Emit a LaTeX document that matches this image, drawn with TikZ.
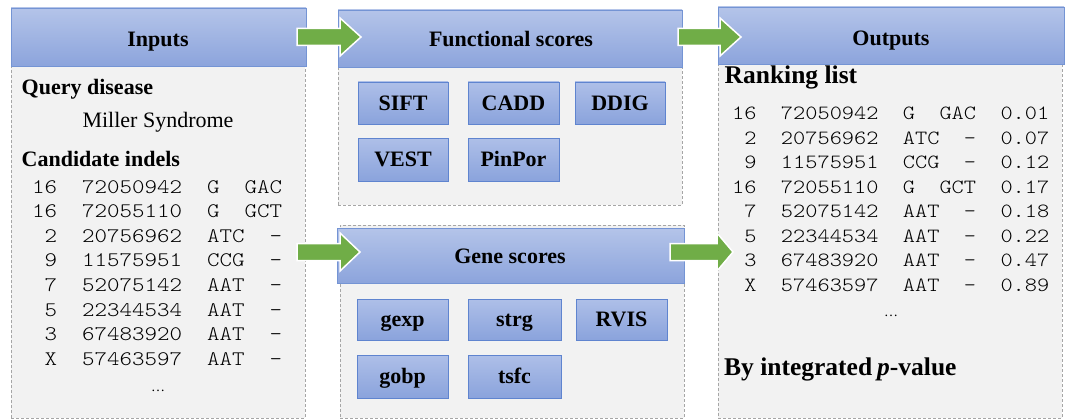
\documentclass[tikz,border=0pt]{standalone}
\usepackage{fontspec}
\setmainfont{Liberation Serif}
\newfontfamily\courierlike{lmmonolt10-regular.otf}[FakeStretch=1.15]
\definecolor{hdtop}{HTML}{B4C4E9}
\definecolor{hdbot}{HTML}{8CA4DC}
\definecolor{hdline}{HTML}{7494D4}
\definecolor{bxtop}{HTML}{AEBFE8}
\definecolor{bxbot}{HTML}{8AA3DC}
\definecolor{bxline}{HTML}{5F84CF}
\definecolor{panelfill}{HTML}{F2F2F2}
\definecolor{panelline}{HTML}{A6A6A6}
\definecolor{arrowgreen}{HTML}{70AD47}
\begin{document}
\begin{tikzpicture}[x=1pt,y=-1pt,
  panel/.style={draw=panelline, dash pattern=on 3pt off 2pt, line width=0.8pt, fill=panelfill, anchor=north west, inner sep=0pt, outer sep=0pt},
  header/.style={draw=hdline, line width=0.8pt, top color=hdtop, bottom color=hdbot, anchor=north west, inner sep=0pt, outer sep=0pt},
  scorebox/.style={draw=bxline, line width=0.8pt, top color=bxtop, bottom color=bxbot, anchor=north west, inner sep=0pt, outer sep=0pt, font=\fontsize{22}{26}\selectfont\bfseries, text height=14.5pt, text depth=0pt},
  hdtext/.style={inner sep=0pt, anchor=base, font=\fontsize{22}{26}\selectfont\bfseries},
  bodyb/.style={inner sep=0pt, font=\fontsize{22}{26}\selectfont\bfseries},
  bodyr/.style={inner sep=0pt, font=\fontsize{22}{26}\selectfont},
  bigb/.style={inner sep=0pt, anchor=base west, font=\fontsize{25.5}{30}\selectfont\bfseries},
  monoin/.style={inner sep=0pt, anchor=base west, font=\fontsize{20.7}{24}\selectfont\courierlike},
  monoout/.style={inner sep=0pt, anchor=base west, font=\fontsize{20.2}{24}\selectfont\courierlike},
  dotstext/.style={inner sep=0pt, anchor=base, font=\fontsize{14}{16}\selectfont},
  garrow/.style={fill=arrowgreen, draw=white, line width=1.5pt, line join=miter}
]
\useasboundingbox[fill=white] (0,0) rectangle (1069,420);

% ---------- panels ----------
\node[panel, minimum width=294pt, minimum height=410pt] (inpanel) at (11,8) {};
\node[header, minimum width=295pt, minimum height=58pt] (inhead) at (11,8) {};

\node[panel, minimum width=344pt, minimum height=195pt] (fnpanel) at (338,10) {};
\node[header, minimum width=344pt, minimum height=57pt] (fnhead) at (338,10) {};

\node[panel, minimum width=344pt, minimum height=193pt] (gnpanel) at (340,225) {};
\node[header, minimum width=347pt, minimum height=55pt] (gnhead) at (337,228) {};

\node[panel, minimum width=344pt, minimum height=411pt] (outpanel) at (718,7) {};
\node[header, minimum width=346pt, minimum height=57pt] (outhead) at (718,7) {};

% ---------- header texts ----------
\node[hdtext] (tin) at (158,47) {Inputs};
\node[hdtext] (tfn) at (511,47) {Functional scores};
\node[hdtext] (tgn) at (510,263) {Gene scores};
\node[hdtext] (tout) at (891,46) {Outputs};

% ---------- functional score boxes ----------
\node[scorebox, minimum width=90pt, minimum height=42pt] (sift) at (358,82) {SIFT};
\node[scorebox, minimum width=91pt, minimum height=42pt] (cadd) at (468,82) {CADD};
\node[scorebox, minimum width=90pt, minimum height=42pt] (ddig) at (575,82) {DDIG};
\node[scorebox, minimum width=90pt, minimum height=43pt] (vest) at (358,138) {VEST};
\node[scorebox, minimum width=91pt, minimum height=43pt] (pinpor) at (468,138) {PinPor};

% ---------- gene score boxes ----------
\node[scorebox, minimum width=91pt, minimum height=41pt] (gexp) at (357,299) {gexp};
\node[scorebox, minimum width=93pt, minimum height=41pt] (strg) at (468,299) {strg};
\node[scorebox, minimum width=91pt, minimum height=41pt] (rvis) at (576,299) {RVIS};
\node[scorebox, minimum width=91pt, minimum height=43pt] (gobp) at (357,355) {gobp};
\node[scorebox, minimum width=93pt, minimum height=43pt] (tsfc) at (468,355) {tsfc};

% ---------- inputs body ----------
\node[bodyb, anchor=base west] (qd) at (21.5,95) {Query disease};
\node[bodyr, anchor=base] (ms) at (158,128) {Miller Syndrome};
\node[bodyb, anchor=base west] (cand) at (21.5,166) {Candidate indels};
\foreach \t [count=\i from 0] in {16~~72050942~~G~~GAC, 16~~72055110~~G~~GCT, ~2~~20756962~~ATC~~–, ~9~~11575951~~CCG~~–, ~7~~52075142~~AAT~~–, ~5~~22344534~~AAT~~–, ~3~~67483920~~AAT~~–, ~X~~57463597~~AAT~~–}
  \node[monoin] (in\i) at (32,193+24.6*\i) {\t};
\node[dotstext] (indots) at (158,391) {…};

% ---------- outputs body ----------
\node[bigb] (rank) at (724.5,84) {Ranking list};
\foreach \t [count=\i from 0] in {16~~72050942~~G~~GAC~~0.01, ~2~~20756962~~ATC~~–~~0.07, ~9~~11575951~~CCG~~–~~0.12, 16~~72055110~~G~~GCT~~0.17, ~7~~52075142~~AAT~~–~~0.18, ~5~~22344534~~AAT~~–~~0.22, ~3~~67483920~~AAT~~–~~0.47, ~X~~57463597~~AAT~~–~~0.89}
  \node[monoout] (out\i) at (732,119.7+24.5*\i) {\t};
\node[dotstext] (outdots) at (891,316) {…};
\node[bigb] (integ) at (724,375) {By integrated\hspace{5pt}\textit{p}-value};

% ---------- green block arrows ----------
\foreach \xa/\xb/\xt/\yc in {297/340/361/37, 678/720/741/37, 297/340/360/252, 670/717/733/252}
  \draw[garrow] (\xa,\yc-8.5) -- (\xb,\yc-8.5) -- (\xb,\yc-19) -- (\xt,\yc)
     -- (\xb,\yc+19) -- (\xb,\yc+8.5) -- (\xa,\yc+8.5) -- cycle;
\end{tikzpicture}
\end{document}
